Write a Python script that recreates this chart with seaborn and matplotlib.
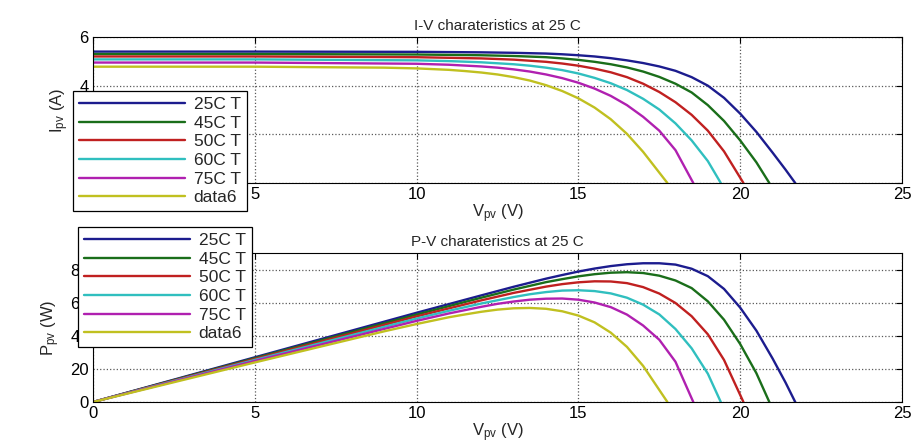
import matplotlib
matplotlib.use('Agg')
import matplotlib.pyplot as plt
import numpy as np
import pandas as pd
import seaborn as sns

# curves
labels = ['25C T', '45C T', '50C T', '60C T', '75C T', 'data6']
colors = ['#1c1c8e', '#1a6e1a', '#c02020', '#30bfbf', '#b020b0', '#c0c020']

v_25 = [0, 5, 10, 12, 13, 14, 14.5, 15, 15.5, 16, 16.5, 17, 17.5, 18, 18.5, 19, 19.5, 20, 20.5, 21, 21.4, 21.7]
i_25 = [5.40, 5.40, 5.39, 5.37, 5.35, 5.32, 5.29, 5.25, 5.20, 5.13, 5.04, 4.93, 4.79, 4.61, 4.35, 4.00, 3.50, 2.85, 2.10, 1.25, 0.55, 0]
p_25 = [0, 27.0, 53.9, 64.4, 69.6, 74.5, 76.7, 78.8, 80.6, 82.1, 83.2, 83.8, 83.8, 83.0, 80.5, 76.0, 68.3, 57.0, 43.1, 26.3, 11.8, 0]

v_45 = [0, 5, 10, 12, 13, 14, 14.5, 15, 15.5, 16, 16.5, 17, 17.5, 18, 18.5, 19, 19.5, 20, 20.5, 20.9]
i_45 = [5.30, 5.30, 5.28, 5.25, 5.22, 5.17, 5.12, 5.06, 4.98, 4.88, 4.75, 4.58, 4.36, 4.08, 3.72, 3.20, 2.55, 1.75, 0.85, 0]
p_45 = [0, 26.5, 52.8, 63.0, 67.9, 72.4, 74.2, 75.9, 77.2, 78.1, 78.4, 77.9, 76.3, 73.4, 68.8, 60.8, 49.7, 35.0, 17.4, 0]

v_50 = [0, 5, 10, 12, 13, 14, 14.5, 15, 15.5, 16, 16.5, 17, 17.5, 18, 18.5, 19, 19.5, 20.1]
i_50 = [5.20, 5.20, 5.17, 5.12, 5.07, 4.98, 4.91, 4.82, 4.70, 4.55, 4.35, 4.08, 3.74, 3.32, 2.80, 2.15, 1.30, 0]
p_50 = [0, 26.0, 51.7, 61.4, 65.9, 69.7, 71.2, 72.3, 72.9, 72.8, 71.8, 69.4, 65.5, 59.8, 51.8, 40.9, 25.4, 0]

v_60 = [0, 5, 10, 11, 12, 13, 13.5, 14, 14.5, 15, 15.5, 16, 16.5, 17, 17.5, 18, 18.5, 19, 19.4]
i_60 = [5.08, 5.08, 5.04, 5.01, 4.96, 4.88, 4.82, 4.74, 4.64, 4.50, 4.32, 4.10, 3.82, 3.46, 3.02, 2.45, 1.75, 0.90, 0]
p_60 = [0, 25.4, 50.4, 55.1, 59.5, 63.4, 65.1, 66.4, 67.3, 67.5, 67.0, 65.6, 63.0, 58.8, 52.9, 44.1, 32.4, 17.1, 0]

v_75 = [0, 5, 10, 11, 12, 12.5, 13, 13.5, 14, 14.5, 15, 15.5, 16, 16.5, 17, 17.5, 18, 18.55]
i_75 = [4.95, 4.95, 4.90, 4.86, 4.79, 4.74, 4.67, 4.58, 4.46, 4.31, 4.12, 3.88, 3.58, 3.20, 2.72, 2.15, 1.35, 0]
p_75 = [0, 24.8, 49.0, 53.5, 57.5, 59.3, 60.7, 61.8, 62.4, 62.5, 61.8, 60.1, 57.3, 52.8, 46.2, 37.6, 24.3, 0]

v_d6 = [0, 5, 9, 10, 11, 11.5, 12, 12.5, 13, 13.5, 14, 14.5, 15, 15.5, 16, 16.5, 17, 17.75]
i_d6 = [4.78, 4.78, 4.74, 4.71, 4.65, 4.60, 4.54, 4.46, 4.35, 4.21, 4.02, 3.78, 3.48, 3.10, 2.62, 2.02, 1.28, 0]
p_d6 = [0, 23.9, 42.7, 47.1, 51.2, 52.9, 54.5, 55.8, 56.6, 56.8, 56.3, 54.8, 52.2, 48.1, 41.9, 33.3, 21.8, 0]

xticks = [0, 5, 10, 15, 20, 25]
iv_yticks = [0, 2, 4, 6]
pv_yticks = [0, 20, 40, 60, 80]

volts = [v_25, v_45, v_50, v_60, v_75, v_d6]
amps = [i_25, i_45, i_50, i_60, i_75, i_d6]
watts = [p_25, p_45, p_50, p_60, p_75, p_d6]

rows = []
for lab, vs, cs, ps in zip(labels, volts, amps, watts):
    for v, c, p in zip(vs, cs, ps):
        rows.append({'curve': lab, 'V': v, 'I': c, 'P': p})
df = pd.DataFrame(rows)

sns.set_style('white')
plt.rcParams['font.family'] = ['Liberation Sans', 'DejaVu Sans']
plt.rcParams['mathtext.default'] = 'regular'

fig = plt.figure(figsize=(9.14, 4.45), dpi=100)
ax1 = fig.add_axes([93 / 914, 1 - 183 / 445, 809 / 914, 146 / 445])
ax2 = fig.add_axes([93 / 914, 1 - 402 / 445, 809 / 914, 149 / 445])

palette = dict(zip(labels, colors))


def style_axes(ax, yticks, ylim, title, ylabel):
    ax.set_xlim(0, 25)
    ax.set_ylim(*ylim)
    ax.set_xticks(xticks)
    ax.set_yticks(yticks)
    ax.grid(True, linestyle=':', color='0.35', linewidth=0.9)
    ax.tick_params(direction='in', length=4, top=True, right=True,
                   labelsize=12, colors='black', pad=3)
    for sp in ax.spines.values():
        sp.set_color('black')
        sp.set_linewidth(0.8)
        sp.set_visible(True)
    ax.set_title(title, fontsize=11, pad=5)
    ax.set_xlabel('V$_{pv}$ (V)', fontsize=12, labelpad=0)
    ax.set_ylabel(ylabel, fontsize=12, labelpad=6)


for ax, ycol in [(ax1, 'I'), (ax2, 'P')]:
    sns.lineplot(data=df, x='V', y=ycol, hue='curve', palette=palette,
                 hue_order=labels, sort=False, estimator=None, units='curve',
                 linewidth=1.7, ax=ax, legend=False)

style_axes(ax1, iv_yticks, (0, 6), 'I-V charateristics at 25 C', 'I$_{pv}$ (A)')
style_axes(ax2, pv_yticks, (0, 90), 'P-V charateristics at 25 C', 'P$_{pv}$ (W)')

handles = [plt.Line2D([], [], color=c, linewidth=1.7) for c in colors]
for ax, left, top in [(ax1, 73, 91), (ax2, 78, 227)]:
    leg = ax.legend(handles, labels, loc='upper left',
                    bbox_to_anchor=(left / 914, 1 - top / 445),
                    bbox_transform=fig.transFigure, fontsize=12.5,
                    handlelength=6.1, handletextpad=0.5, labelspacing=0.2,
                    borderpad=0.35, borderaxespad=0, fancybox=False,
                    framealpha=1, edgecolor='black')
    leg.get_frame().set_linewidth(0.9)
    leg.set_zorder(10)

fig.savefig('out.png', dpi=100, facecolor='white')
